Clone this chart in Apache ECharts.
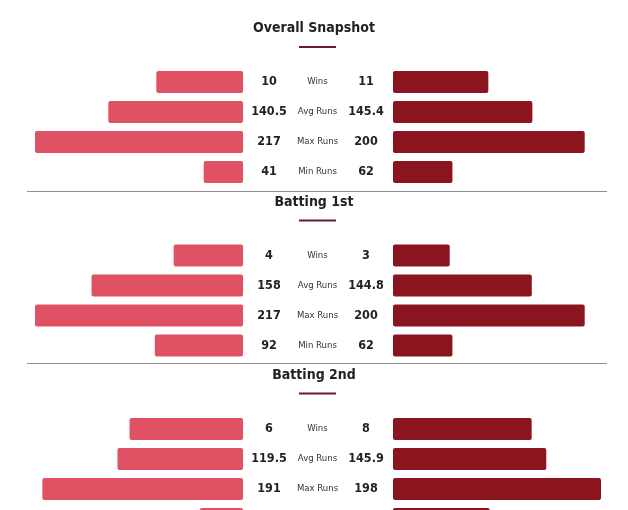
<!DOCTYPE html>
<html><head><meta charset="utf-8">
<script src="https://cdn.jsdelivr.net/npm/echarts@6/dist/echarts.min.js"></script>
<style>html,body{margin:0;padding:0;background:#fff;overflow:hidden}#c{width:628px;height:540px}</style>
</head><body><div id="c"></div>
<script>
// ---- data ----
const panelTitles = ['Overall Snapshot', 'Batting 1st', 'Batting 2nd'];
const stats = ['Wins', 'Avg Runs', 'Max Runs', 'Min Runs'];
const leftOverall = [10, 140.5, 217, 41];
const rightOverall = [11, 145.4, 200, 62];
const leftBat1 = [4, 158, 217, 92];
const rightBat1 = [3, 144.8, 200, 62];
const leftBat2 = [6, 119.5, 191, 41];
const rightBat2 = [8, 145.9, 198, 92];
// matches played per team in each split (denominator for wins bars)
const leftMatches = [24, 12, 11];
const rightMatches = [24, 11, 12];

// ---- style / layout ----
const FONT = "'Liberation Sans Narrow','DejaVu Sans Condensed','Noto Sans',sans-serif";
const LEFT_COLOR = '#E05263';
const RIGHT_COLOR = '#8B151E';
const ACCENT = '#6B1A2E';
const titleTop = [16, 190, 363];
const accentY = [47, 220.5, 393.5];
const gridTop = [67, 240.5, 414];
const separatorY = [191.5, 363.5];

const leftData = [leftOverall, leftBat1, leftBat2];
const rightData = [rightOverall, rightBat1, rightBat2];

const grids = [], xAxes = [], yAxes = [], series = [], titles = [], graphics = [];

panelTitles.forEach((t, p) => {
  titles.push({
    text: t, left: 'center', top: titleTop[p],
    textStyle: { fontFamily: FONT, fontSize: 14, fontWeight: 'bold', color: '#222' }
  });
  graphics.push({
    type: 'line', shape: { x1: 299, y1: accentY[p], x2: 336, y2: accentY[p] },
    style: { stroke: ACCENT, lineWidth: 2 }
  });
  const runMax = Math.max(...leftData[p].slice(1), ...rightData[p].slice(1));
  [0, 1].forEach(side => {
    const vals = side === 0 ? leftData[p] : rightData[p];
    const matches = side === 0 ? leftMatches[p] : rightMatches[p];
    const color = side === 0 ? LEFT_COLOR : RIGHT_COLOR;
    const g = grids.length;
    grids.push({ left: side === 0 ? 35 : 393, width: 208, top: gridTop[p], height: 120 });
    const xw = xAxes.length;
    xAxes.push({ gridIndex: g, type: 'value', min: 0, max: matches, inverse: side === 0, show: false });
    xAxes.push({ gridIndex: g, type: 'value', min: 0, max: runMax, inverse: side === 0, show: false });
    const yi = yAxes.length;
    yAxes.push({
      gridIndex: g, type: 'category', data: stats, inverse: true,
      position: side === 0 ? 'right' : 'left',
      axisLine: { show: false }, axisTick: { show: false }, splitLine: { show: false },
      axisLabel: {
        margin: side === 0 ? 26 : 27, align: 'center',
        fontFamily: FONT, fontSize: 12.5, fontWeight: 'bold', color: '#222',
        formatter: (v, i) => String(vals[i])
      }
    });
    if (side === 0) {
      yAxes.push({
        gridIndex: g, type: 'category', data: stats, inverse: true, position: 'right',
        axisLine: { show: false }, axisTick: { show: false }, splitLine: { show: false },
        axisLabel: { margin: 74.5, align: 'center', fontFamily: FONT, fontSize: 9.5, color: '#333' }
      });
    }
    const common = {
      type: 'bar', yAxisIndex: yi, barWidth: 22, barGap: '-100%', silent: true,
      itemStyle: { color: color, borderRadius: 2 }
    };
    series.push(Object.assign({}, common, {
      xAxisIndex: xw, data: vals.map((v, i) => i === 0 ? v : '-')
    }));
    series.push(Object.assign({}, common, {
      xAxisIndex: xw + 1, data: vals.map((v, i) => i === 0 ? '-' : v)
    }));
  });
});

separatorY.forEach(y => graphics.push({
  type: 'line', shape: { x1: 27, y1: y, x2: 607, y2: y },
  style: { stroke: '#8f8f8f', lineWidth: 1 }
}));

const chart = echarts.init(document.getElementById('c'));
chart.setOption({
  animation: false,
  backgroundColor: '#fff',
  title: titles,
  grid: grids,
  xAxis: xAxes,
  yAxis: yAxes,
  series: series,
  graphic: graphics
});
</script>
</body></html>
